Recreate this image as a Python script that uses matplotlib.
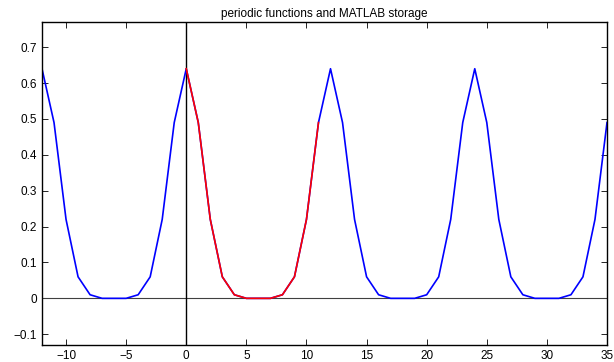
import numpy as np
import matplotlib
matplotlib.use("Agg")
import matplotlib.pyplot as plt

plt.rcParams['font.family'] = ['Liberation Sans', 'DejaVu Sans']

## full periodic signal, x = -12 .. 35
x_all = np.arange(-12, 36)
y_all = [0.64, 0.49, 0.22, 0.06, 0.01, 0.0, 0.0, 0.0, 0.01, 0.06, 0.22, 0.49,
         0.64, 0.49, 0.22, 0.06, 0.01, 0.0, 0.0, 0.0, 0.01, 0.06, 0.22, 0.49,
         0.64, 0.49, 0.22, 0.06, 0.01, 0.0, 0.0, 0.0, 0.01, 0.06, 0.22, 0.49,
         0.64, 0.49, 0.22, 0.06, 0.01, 0.0, 0.0, 0.0, 0.01, 0.06, 0.22, 0.49]

## one stored period, x = 0 .. 11
x_store = np.arange(0, 12)
y_store = [0.64, 0.49, 0.22, 0.06, 0.01, 0.0, 0.0, 0.0, 0.01, 0.06, 0.22, 0.49]

xticks = [-10, -5, 0, 5, 10, 15, 20, 25, 30, 35]
yticks = [-0.1, 0, 0.1, 0.2, 0.3, 0.4, 0.5, 0.6, 0.7]

fig = plt.figure(figsize=(6.14, 3.62), dpi=100)
ax = fig.add_axes([0.0684, 0.047, 0.9202, 0.892])

ax.axhline(0, color="#404040", linewidth=0.8)
ax.axvline(0, color="black", linewidth=1.0)
ax.plot(x_all, y_all, color="blue", linewidth=1.2)
ax.plot(x_store, y_store, color="red", linewidth=1.2)

ax.set_xlim(-12, 35)
ax.set_ylim(-0.13, 0.77)
ax.set_xticks(xticks)
ax.set_yticks(yticks)
ax.set_yticklabels(["\u22120.1", "0", "0.1", "0.2", "0.3", "0.4", "0.5", "0.6", "0.7"])
ax.set_xticklabels(["\u221210", "\u22125", "0", "5", "10", "15", "20", "25", "30", "35"])
ax.tick_params(direction="in", top=True, right=True, length=4, labelsize=8.5, width=0.6)
for s in ax.spines.values():
    s.set_linewidth(1.0)

ax.set_title("periodic functions and MATLAB storage", fontsize=8.5, pad=4)

plt.savefig("out.png", dpi=100)
